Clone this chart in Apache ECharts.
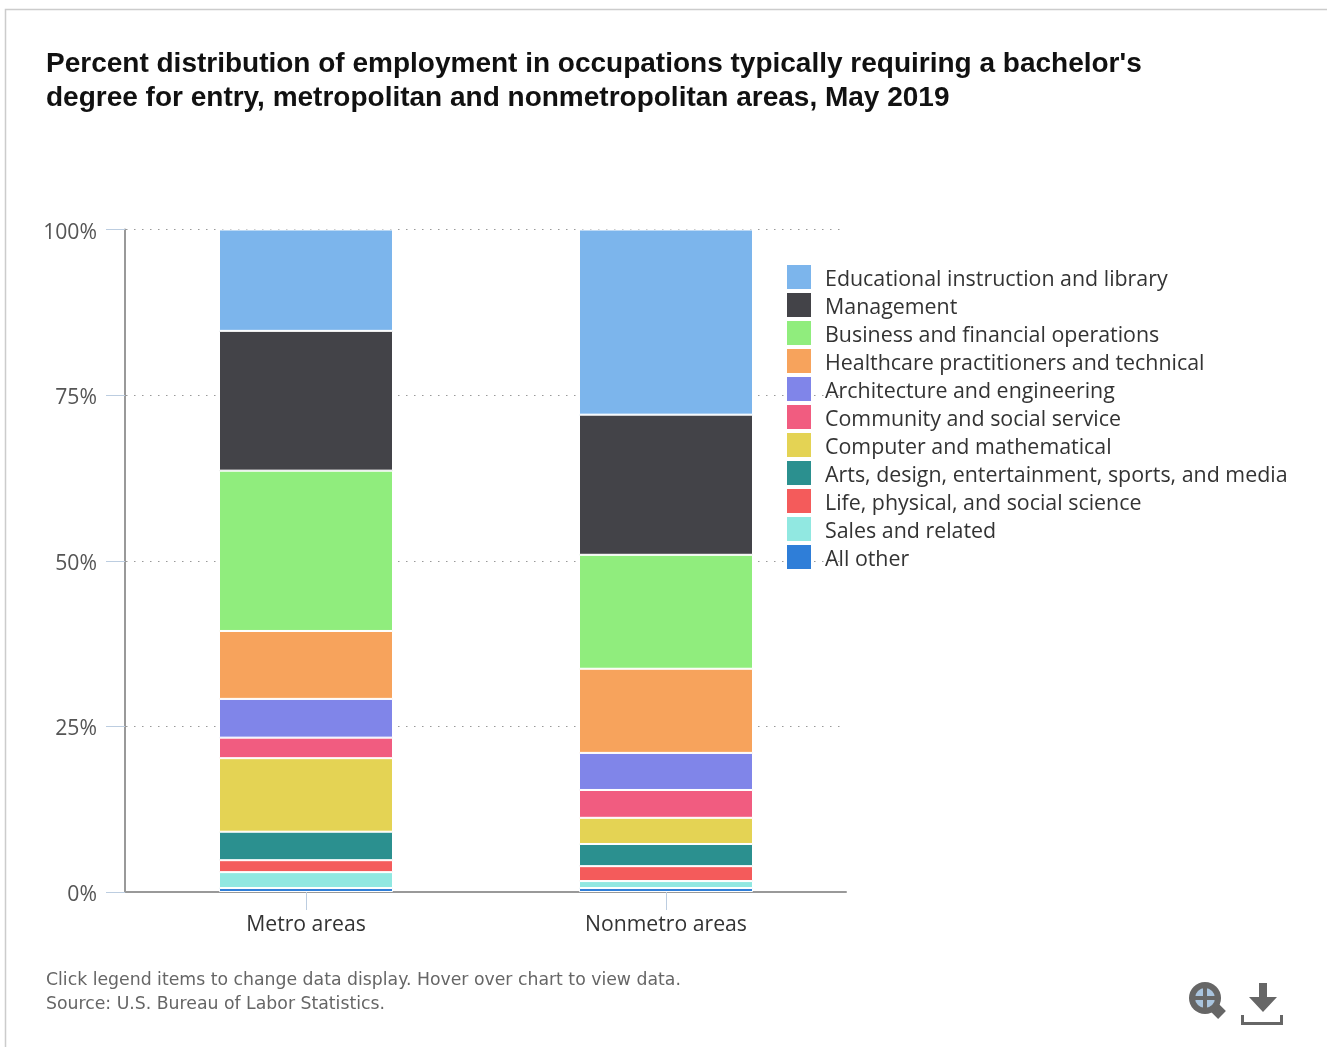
<!DOCTYPE html>
<html>
<head>
<meta charset="utf-8">
<title>Employment in bachelor's-level occupations, May 2019</title>
<style>
  html, body { margin: 0; padding: 0; background: #fff; }
  #chart { width: 1327px; height: 1047px; }
</style>
<script src="https://cdn.jsdelivr.net/npm/echarts@6/dist/echarts.min.js"></script>
</head>
<body>
<div id="chart"></div>
<script>
// Percent shares for [Metro areas, Nonmetro areas]
const areas = ['Metro areas', 'Nonmetro areas'];
const allOther = [0.6, 0.6];
const salesRelated = [2.4, 1.05];
const lifeScience = [1.8, 2.25];
const artsMedia = [4.3, 3.35];
const computerMath = [11.1, 3.95];
const communityService = [3.1, 4.2];
const architectureEng = [5.85, 5.6];
const healthcare = [10.25, 12.7];
const businessFinance = [24.2, 17.2];
const management = [21.1, 21.15];
const education = [15.3, 27.95];

// Stack order runs bottom to top; the legend lists it top to bottom.
const groups = [
  { name: 'All other', values: allOther, color: '#2f7ed8' },
  { name: 'Sales and related', values: salesRelated, color: '#91e8e1' },
  { name: 'Life, physical, and social science', values: lifeScience, color: '#f45b5b' },
  { name: 'Arts, design, entertainment, sports, and media', values: artsMedia, color: '#2b908f' },
  { name: 'Computer and mathematical', values: computerMath, color: '#e4d354' },
  { name: 'Community and social service', values: communityService, color: '#f15c80' },
  { name: 'Architecture and engineering', values: architectureEng, color: '#8085e9' },
  { name: 'Healthcare practitioners and technical', values: healthcare, color: '#f7a35c' },
  { name: 'Business and financial operations', values: businessFinance, color: '#90ed7d' },
  { name: 'Management', values: management, color: '#434348' },
  { name: 'Educational instruction and library', values: education, color: '#7cb5ec' }
];

const bodyFont = '"Open Sans", "Noto Sans", sans-serif';
const noteFont = '"DejaVu Sans", Verdana, sans-serif';
const iconColor = '#666666';
const crossColor = '#a9c4de';

const chart = echarts.init(document.getElementById('chart'), null, { renderer: 'canvas' });

chart.setOption({
  animation: false,
  backgroundColor: '#ffffff',
  title: {
    left: 46,
    top: 47,
    padding: 0,
    text: "Percent distribution of employment in occupations typically requiring a bachelor's\ndegree for entry, metropolitan and nonmetropolitan areas, May 2019",
    textStyle: {
      fontFamily: '"Liberation Sans", Arial, sans-serif',
      fontWeight: 'bold',
      fontSize: 28,
      lineHeight: 34,
      color: '#111111'
    }
  },
  legend: {
    orient: 'vertical',
    left: 782,
    top: 260,
    itemWidth: 24,
    itemHeight: 24,
    itemGap: 2.5,
    icon: 'rect',
    itemStyle: { borderWidth: 0 },
    data: groups.map(g => g.name).reverse(),
    formatter: '{entry|{name}}',
    textStyle: {
      rich: {
        entry: {
          fontFamily: bodyFont,
          fontSize: 21.4,
          height: 18,
          lineHeight: 18,
          color: '#333333',
          padding: [6, 0, 0, 9]
        }
      }
    }
  },
  grid: { left: 126, top: 229.5, width: 720, height: 662.5, containLabel: false },
  xAxis: {
    type: 'category',
    data: areas,
    axisLine: { show: true, lineStyle: { color: '#999999', width: 2 } },
    axisTick: { show: true, alignWithLabel: true, length: 18, lineStyle: { color: '#bccde0', width: 1 } },
    axisLabel: { margin: 22, fontFamily: bodyFont, fontSize: 21.2, color: '#333333' }
  },
  yAxis: {
    type: 'value',
    min: 0,
    max: 100,
    interval: 25,
    offset: 1,
    axisLine: { show: true, lineStyle: { color: '#999999', width: 2 } },
    axisTick: { show: true, length: 19, lineStyle: { color: '#bccde0', width: 1 } },
    axisLabel: {
      margin: 28,
      verticalAlign: 'top',
      lineHeight: 6,
      fontFamily: bodyFont,
      fontSize: 21.2,
      color: '#555555',
      formatter: '{value}%'
    },
    splitLine: {
      show: true,
      lineStyle: { color: '#999999', width: 1, type: [1.5, 6.5] }
    }
  },
  series: groups.map(g => ({
    name: g.name,
    type: 'bar',
    stack: 'share',
    barWidth: 174,
    data: g.values,
    itemStyle: { color: g.color, borderColor: '#ffffff', borderWidth: 1 }
  })),
  graphic: [
    // Card outline along the top and left edges
    { type: 'polyline', silent: true, shape: { points: [[5.5, 1047], [5.5, 9.5], [1327, 9.5]] },
      style: { stroke: '#cccccc', lineWidth: 1.5, fill: null } },
    // Footnotes
    { type: 'text', silent: true, left: 46, top: 972,
      style: { text: 'Click legend items to change data display. Hover over chart to view data.',
               font: '17.3px ' + noteFont, fill: '#666666' } },
    { type: 'text', silent: true, left: 46, top: 996,
      style: { text: 'Source: U.S. Bureau of Labor Statistics.',
               font: '17.3px ' + noteFont, fill: '#666666' } },
    // Zoom icon
    { type: 'line', silent: true, shape: { x1: 1213, y1: 1006, x2: 1222, y2: 1015 },
      style: { stroke: iconColor, lineWidth: 11 } },
    { type: 'circle', silent: true, shape: { cx: 1205, cy: 998, r: 16 }, style: { fill: iconColor } },
    { type: 'circle', silent: true, shape: { cx: 1205, cy: 998, r: 10 }, style: { fill: crossColor } },
    { type: 'line', silent: true, shape: { x1: 1205, y1: 987, x2: 1205, y2: 1009 },
      style: { stroke: iconColor, lineWidth: 4 } },
    { type: 'line', silent: true, shape: { x1: 1194, y1: 998, x2: 1216, y2: 998 },
      style: { stroke: iconColor, lineWidth: 4 } },
    // Download icon
    { type: 'polygon', silent: true,
      shape: { points: [[1259, 983], [1267, 983], [1267, 997], [1277, 997], [1263, 1012], [1249, 997], [1259, 997]] },
      style: { fill: iconColor } },
    { type: 'polyline', silent: true,
      shape: { points: [[1242.5, 1015], [1242.5, 1023.5], [1281.5, 1023.5], [1281.5, 1015]] },
      style: { stroke: iconColor, lineWidth: 3, fill: null } }
  ]
});
</script>
</body>
</html>
